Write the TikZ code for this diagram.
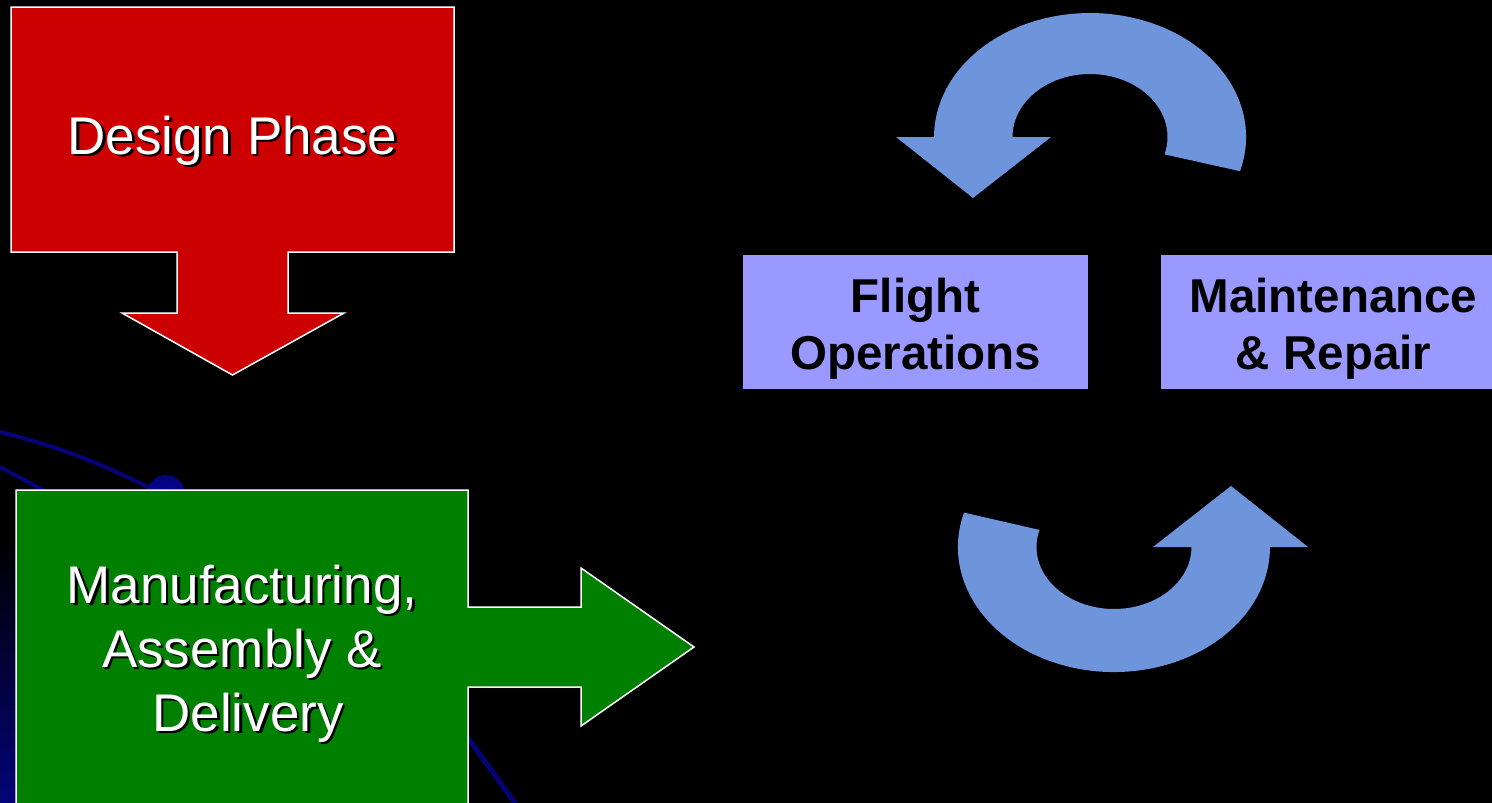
\documentclass[tikz,border=0pt]{standalone}
\usepackage{fontspec}
\setmainfont{Liberation Sans}
\definecolor{redfill}{RGB}{204,0,0}
\definecolor{greenfill}{RGB}{0,128,0}
\definecolor{boxblue}{RGB}{153,153,255}
\definecolor{arrowblue}{RGB}{110,148,220}
\definecolor{navyline}{RGB}{4,4,120}
\begin{document}
\begin{tikzpicture}[x=1pt,y=-1pt,
  bigtext/.style={font=\fontsize{53}{64}\selectfont, anchor=base, inner sep=0pt},
  whitetext/.style={bigtext, text=white},
  shadowtext/.style={bigtext, text=black},
  boldtext/.style={font=\fontsize{47.5}{57}\selectfont\bfseries, anchor=base, inner sep=0pt, text=black},
  callout/.style={fill=#1, draw=white, line width=1.5pt, line join=miter},
  bluebox/.style={fill=boxblue, draw=none, minimum width=345pt, minimum height=134pt, anchor=north west, inner sep=0pt},
  cyclearrow/.style={fill=arrowblue}
]
\useasboundingbox (0,0) rectangle (1492,803);
\fill[black] (0,0) rectangle (1492,803);
\begin{scope}
\clip (0,0) rectangle (1492,803);
% background decoration
\shade[top color=black, bottom color=navyline] (0,540) rectangle (16,803);
\shade[inner color=navyline!70!blue, outer color=navyline] (166,494) circle (19pt);
\draw[navyline, line width=4pt] (0,432) .. controls (60,447) and (100,463) .. (150,488);
\draw[navyline, line width=4pt] (0,467) -- (45,491);
\draw[navyline, line width=5pt] (468,738) -- (517,806);

% red callout
\draw[callout=redfill] (11,7) -- (454,7) -- (454,252) -- (288,252) -- (288,313) -- (344,313)
  -- (232.5,375) -- (122,313) -- (177,313) -- (177,252) -- (11,252) -- cycle;
% green callout
\draw[callout=greenfill] (16,490) -- (468,490) -- (468,607) -- (581,607) -- (581,568)
  -- (694,647) -- (581,726) -- (581,687) -- (468,687) -- (468,830) -- (16,830) -- cycle;

% texts of callouts
\node[shadowtext] (dps) at (235,156.5) {Design Phase};
\node[whitetext] (dp) at (232.5,154) {Design Phase};
\node[shadowtext] (m1s) at (244.5,605.5) {Manufacturing,};
\node[whitetext] (m1) at (242,603) {Manufacturing,};
\node[shadowtext] (m2s) at (244.5,669.5) {Assembly \&};
\node[whitetext] (m2) at (242,667) {Assembly \&};
\node[shadowtext] (m3s) at (250.5,733.5) {Delivery};
\node[whitetext] (m3) at (248,731) {Delivery};

% blue boxes
\node[bluebox] (fo) at (743,255) {};
\node[bluebox] (mr) at (1161,255) {};
\node[boldtext] (fo1) at (915.5,312) {Flight};
\node[boldtext] (fo2) at (915.5,369) {Operations};
\node[boldtext] (mr1) at (1333.5,312) {Maintenance};
\node[boldtext] (mr2) at (1333.5,369) {\& Repair};

% circular arrows
\fill[cyclearrow] (1240,171.2) arc[start angle=-16, end angle=180, x radius=156pt, y radius=124pt]
  -- (896,137) -- (973,198) -- (1051,137) -- (1012.5,137)
  arc[start angle=180, end angle=-16, x radius=77.5pt, y radius=63pt] -- cycle;
\fill[cyclearrow] (964,512.6) arc[start angle=164, end angle=360, x radius=156pt, y radius=125pt]
  -- (1308,547) -- (1231,486) -- (1153,547) -- (1191.5,547)
  arc[start angle=360, end angle=164, x radius=77.5pt, y radius=62pt] -- cycle;
\end{scope}
\end{tikzpicture}
\end{document}
